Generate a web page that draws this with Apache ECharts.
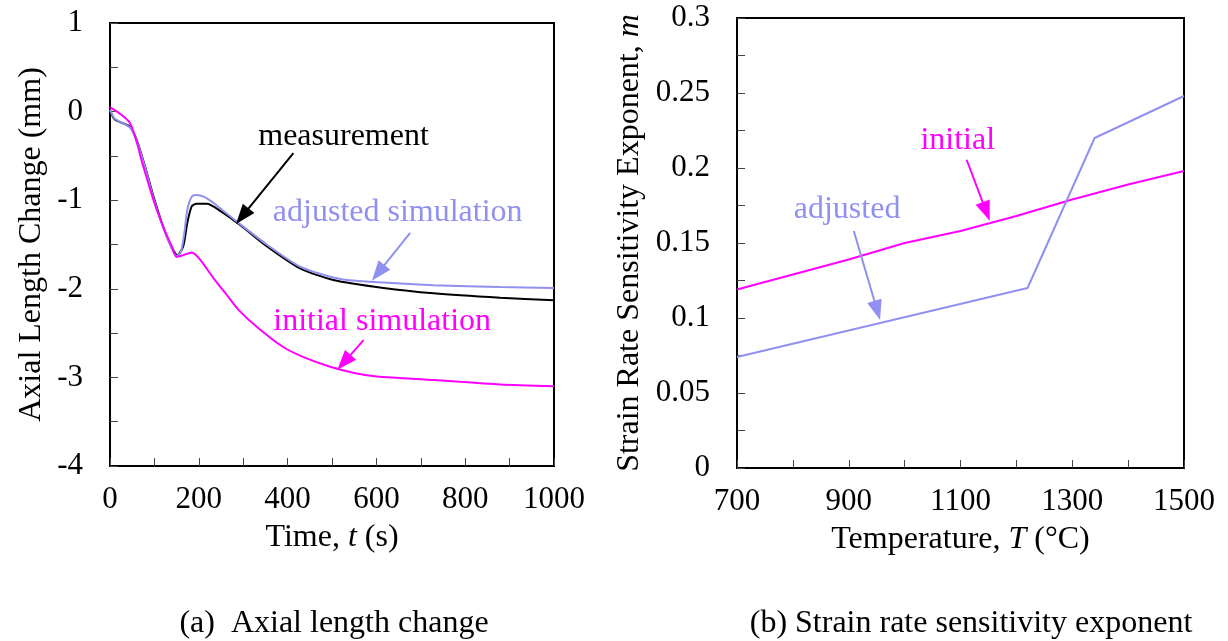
<!DOCTYPE html>
<html>
<head>
<meta charset="utf-8">
<script src="https://cdn.jsdelivr.net/npm/echarts@6/dist/echarts.min.js"></script>
<style>
html, body { margin: 0; padding: 0; background: #fff; }
#main { width: 1228px; height: 641px; }
</style>
</head>
<body>
<div id="main"></div>
<script>
// (a) axial length change, mm vs time, s
var measTime = [0, 11, 45, 60, 79, 98, 117, 135, 152, 165, 174, 184, 195, 218, 248, 293, 353, 428, 503, 616, 729, 879, 1000];
var measVal = [0.02, -0.09, -0.17, -0.32, -0.62, -0.96, -1.26, -1.49, -1.62, -1.52, -1.26, -1.07, -1.04, -1.04, -1.12, -1.28, -1.52, -1.77, -1.90, -1.99, -2.05, -2.10, -2.13];

var adjTime = [0, 11, 45, 60, 79, 98, 117, 135, 150, 160, 168, 174, 184, 195, 211, 233, 248, 293, 353, 428, 519, 616, 729, 879, 1000];
var adjVal = [0.02, -0.08, -0.18, -0.33, -0.63, -0.98, -1.27, -1.50, -1.63, -1.58, -1.35, -1.11, -0.96, -0.94, -0.96, -1.03, -1.09, -1.27, -1.50, -1.75, -1.89, -1.93, -1.96, -1.98, -1.99];

var iniTime = [0, 45, 75, 98, 120, 139, 150, 165, 184, 203, 233, 263, 290, 331, 391, 440, 496, 550, 601, 729, 879, 1000];
var iniVal = [0.05, -0.13, -0.62, -1.00, -1.30, -1.52, -1.64, -1.62, -1.59, -1.67, -1.88, -2.07, -2.24, -2.43, -2.66, -2.78, -2.88, -2.95, -2.99, -3.03, -3.08, -3.10];

// (b) strain rate sensitivity exponent vs temperature
var tempIni = [700, 800, 900, 1000, 1100, 1200, 1300, 1400, 1500];
var mIni = [0.119, 0.129, 0.139, 0.150, 0.158, 0.168, 0.179, 0.189, 0.198];
var tempAdj = [700, 1220, 1340, 1500];
var mAdj = [0.074, 0.120, 0.220, 0.248];

var BLACK = '#000';
var BLUE = '#9090f0';
var PINK = '#ff00ff';
var FONT = 'Liberation Serif';

function pairs(xs, ys) {
	var out = [];
	for (var i = 0; i < xs.length; i++) {
		out.push([xs[i], ys[i]]);
	}
	return out;
}

// arrow from a to b, in data coords
function arrow(a, b) {
	return [
		{ coord: a, symbol: 'none' },
		{ coord: b, symbol: 'triangle', symbolSize: [15, 20] }
	];
}

function note(text, at, color) {
	return {
		coord: at,
		symbol: 'circle',
		symbolSize: 0,
		label: {
			show: true,
			position: 'inside',
			formatter: text,
			color: color,
			fontSize: 32,
			fontFamily: FONT
		}
	};
}

function plain(v) { return String(v); }

var tickStyle = { show: true, inside: true, length: 8, lineStyle: { color: '#444', width: 1 } };
var minorStyle = { show: true, splitNumber: 2, length: 8, lineStyle: { color: '#444', width: 1 } };
var labelStyle = { color: '#000', fontSize: 31, fontFamily: FONT, formatter: plain };
var nameStyle = {
	color: '#000', fontSize: 32, fontFamily: FONT,
	rich: { i: { fontStyle: 'italic', fontSize: 32, fontFamily: FONT, color: '#000' } }
};
var lineAxis = { onZero: false, lineStyle: { color: BLACK, width: 2 } };

var option = {
	animation: false,
	backgroundColor: '#fff',
	grid: [
		{ left: 110, top: 23, width: 444, height: 443, show: true, borderColor: BLACK, borderWidth: 2 },
		{ left: 737, top: 18, width: 447, height: 450, show: true, borderColor: BLACK, borderWidth: 2 }
	],
	xAxis: [
		{
			gridIndex: 0, type: 'value', min: 0, max: 1000, interval: 200,
			name: 'Time, {i|t} (s)', nameLocation: 'middle', nameGap: 56,
			nameTextStyle: nameStyle,
			axisLine: lineAxis,
			axisTick: tickStyle, minorTick: minorStyle,
			splitLine: { show: false },
			axisLabel: Object.assign({ margin: 18 }, labelStyle)
		},
		{
			gridIndex: 1, type: 'value', min: 700, max: 1500, interval: 200,
			name: 'Temperature, {i|T} (°C)', nameLocation: 'middle', nameGap: 56,
			nameTextStyle: nameStyle,
			axisLine: lineAxis,
			axisTick: tickStyle, minorTick: minorStyle,
			splitLine: { show: false },
			axisLabel: Object.assign({ margin: 18 }, labelStyle)
		}
	],
	yAxis: [
		{
			gridIndex: 0, type: 'value', min: -4, max: 1, interval: 1,
			name: 'Axial Length Change (mm)', nameLocation: 'middle', nameGap: 62,
			nameTextStyle: nameStyle,
			axisLine: lineAxis,
			axisTick: tickStyle, minorTick: minorStyle,
			splitLine: { show: false },
			axisLabel: Object.assign({ margin: 27 }, labelStyle)
		},
		{
			gridIndex: 1, type: 'value', min: 0, max: 0.3, interval: 0.05,
			name: 'Strain Rate Sensitivity Exponent, {i|m}', nameLocation: 'middle', nameGap: 91,
			nameTextStyle: nameStyle,
			axisLine: lineAxis,
			axisTick: tickStyle, minorTick: minorStyle,
			splitLine: { show: false },
			axisLabel: Object.assign({ margin: 27 }, labelStyle)
		}
	],
	series: [
		{
			name: 'measurement', type: 'line', xAxisIndex: 0, yAxisIndex: 0,
			data: pairs(measTime, measVal), showSymbol: false, smooth: 0.25,
			lineStyle: { color: BLACK, width: 2 },
			markLine: {
				silent: true, label: { show: false },
				lineStyle: { color: BLACK, width: 2, type: 'solid' },
				data: [arrow([413, -0.47], [298, -1.18])]
			},
			markPoint: { silent: true, data: [note('measurement', [526, -0.28], BLACK)] }
		},
		{
			name: 'adjusted simulation', type: 'line', xAxisIndex: 0, yAxisIndex: 0,
			data: pairs(adjTime, adjVal), showSymbol: false, smooth: 0.25,
			lineStyle: { color: BLUE, width: 2 },
			markLine: {
				silent: true, label: { show: false },
				lineStyle: { color: BLUE, width: 2, type: 'solid' },
				data: [arrow([676, -1.37], [604, -1.82])]
			},
			markPoint: { silent: true, data: [note('adjusted simulation', [648, -1.14], BLUE)] }
		},
		{
			name: 'initial simulation', type: 'line', xAxisIndex: 0, yAxisIndex: 0,
			data: pairs(iniTime, iniVal), showSymbol: false, smooth: 0.25,
			lineStyle: { color: PINK, width: 2 },
			markLine: {
				silent: true, label: { show: false },
				lineStyle: { color: PINK, width: 2, type: 'solid' },
				data: [arrow([571, -2.58], [527, -2.83])]
			},
			markPoint: { silent: true, data: [note('initial simulation', [613, -2.37], PINK)] }
		},
		{
			name: 'initial', type: 'line', xAxisIndex: 1, yAxisIndex: 1,
			data: pairs(tempIni, mIni), showSymbol: false,
			lineStyle: { color: PINK, width: 2 },
			markLine: {
				silent: true, label: { show: false },
				lineStyle: { color: PINK, width: 2, type: 'solid' },
				data: [arrow([1111, 0.2055], [1146, 0.171])]
			},
			markPoint: { silent: true, data: [note('initial', [1095, 0.218], PINK)] }
		},
		{
			name: 'adjusted', type: 'line', xAxisIndex: 1, yAxisIndex: 1,
			data: pairs(tempAdj, mAdj), showSymbol: false,
			lineStyle: { color: BLUE, width: 2 },
			markLine: {
				silent: true, label: { show: false },
				lineStyle: { color: BLUE, width: 2, type: 'solid' },
				data: [arrow([909, 0.158], [951, 0.105])]
			},
			markPoint: { silent: true, data: [note('adjusted', [897, 0.172], BLUE)] }
		}
	],
	graphic: [
		{
			type: 'text', x: 334, y: 624,
			style: { text: '(a)  Axial length change', fill: '#000', fontSize: 32, fontFamily: FONT, align: 'center', verticalAlign: 'middle' }
		},
		{
			type: 'text', x: 971, y: 624,
			style: { text: '(b) Strain rate sensitivity exponent', fill: '#000', fontSize: 32, fontFamily: FONT, align: 'center', verticalAlign: 'middle' }
		}
	]
};

var chart = echarts.init(document.getElementById('main'));
chart.setOption(option);
</script>
</body>
</html>
